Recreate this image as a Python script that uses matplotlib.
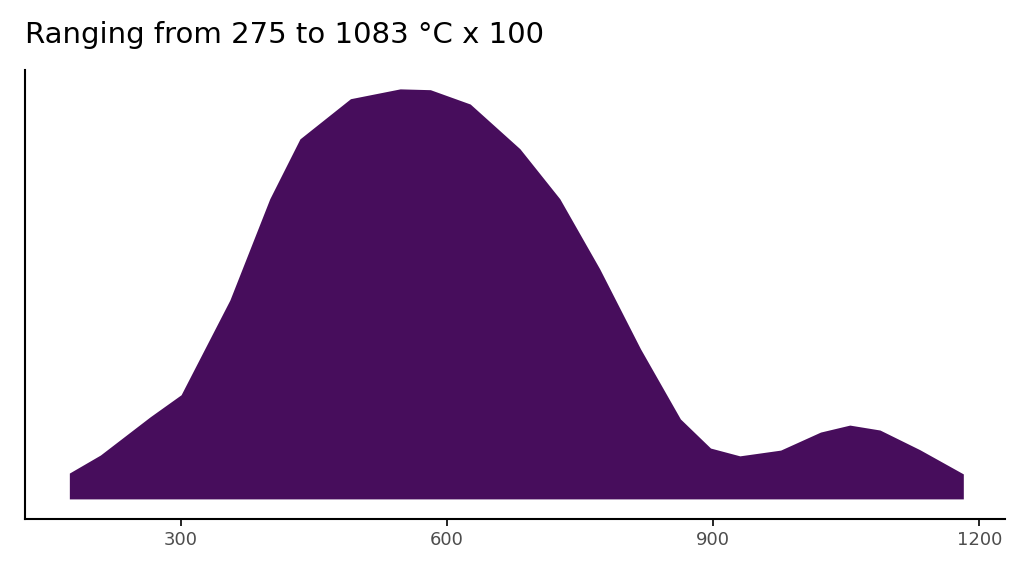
import matplotlib.pyplot as plt

# curve (temperature, relative density)
temp = [174, 209, 265, 300, 355, 400, 434, 491, 547, 581, 626, 682, 727,
        772, 818, 863, 897, 930, 976, 1021, 1054, 1088, 1133, 1182]
dens = [0.063, 0.107, 0.200, 0.254, 0.485, 0.732, 0.878, 0.976, 1.0, 0.998,
        0.963, 0.854, 0.732, 0.561, 0.366, 0.195, 0.124, 0.105, 0.119,
        0.163, 0.180, 0.168, 0.120, 0.061]
xticks = [300, 600, 900, 1200]

fig = plt.figure(figsize=(10.24, 5.76), dpi=100)
ax = fig.add_axes([25 / 1024, 57 / 576, 980 / 1024, 449 / 576])
ax.fill_between(temp, 0, dens, color='#470d5c', lw=0)
ax.set_xlim(124, 1229)
ax.set_ylim(-0.049, 1.046)
ax.set_xticks(xticks)
ax.tick_params(axis='x', labelsize=13, colors='#4d4d4d', length=5, width=1.2)
ax.tick_params(axis='x', color='black')
ax.set_yticks([])
for s in ['top', 'right']:
    ax.spines[s].set_visible(False)
for s in ['left', 'bottom']:
    ax.spines[s].set_linewidth(1.5)
fig.text(25 / 1024, 1 - 35 / 576, 'Ranging from 275 to 1083 °C x 100',
         fontsize=21, va='center', ha='left')
fig.savefig('out.png', dpi=100)
